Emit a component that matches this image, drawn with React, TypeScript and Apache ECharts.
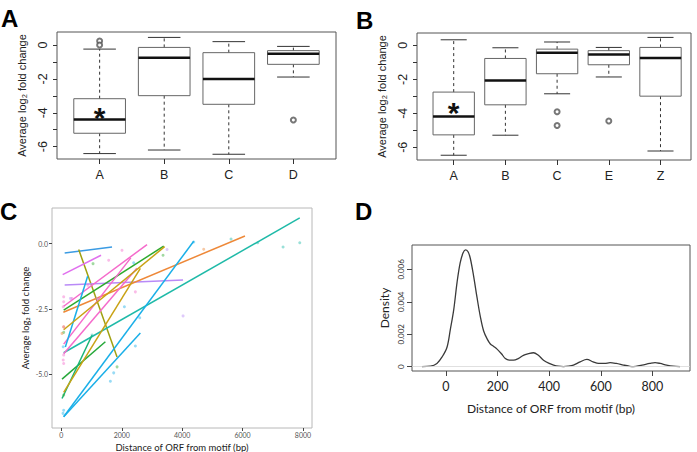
import React, { useEffect, useRef } from "react";
import * as echarts from "echarts";

// ---------- Panel A ----------
const catsA = ["A", "B", "C", "D"];
// [low whisker, Q1, median, Q3, high whisker]
const statsA = [
  [-6.41, -5.21, -4.39, -3.17, -0.24],
  [-6.2, -2.99, -0.75, -0.14, 0.45],
  [-6.45, -3.5, -2.0, -0.45, 0.2],
  [-1.89, -1.14, -0.51, -0.33, -0.08],
];
const outliersA = [[1, 0.24], [1, 0.0], [4, -4.43]];
const starA = [[1, -3.84]];

// ---------- Panel B ----------
const catsB = ["A", "B", "C", "E", "Z"];
const statsB = [
  [-6.47, -5.27, -4.19, -2.75, 0.33],
  [-5.29, -3.5, -2.07, -0.77, -0.14],
  [-2.85, -1.67, -0.43, -0.22, 0.2],
  [-1.86, -1.14, -0.53, -0.31, -0.12],
  [-6.22, -2.99, -0.74, -0.12, 0.47],
];
const outliersB = [[3, -3.91], [3, -4.72], [4, -4.45]];
const starB = [[1, -3.52]];

const ticksAB = [-6, -5, -4, -3, -2, -1, 0];
const labelsAB = [-6, -4, -2, 0];

// ---------- Panel C ----------
// [x1, y1, x2, y2]
const cLines = [
  [110, -0.36, 1678, -0.13],
  [574, -0.23, 1844, -4.34],
  [44, -1.19, 1314, -0.45],
  [110, -1.59, 4030, -1.4],
  [66, -2.63, 6080, 0.29],
  [77, -2.55, 3389, -0.1],
  [77, -4.18, 7894, 0.98],
  [77, -2.4, 2837, -0.04],
  [77, -3.85, 2300, -0.55],
  [77, -4.22, 2500, -0.95],
  [77, -6.63, 4383, 0.09],
  [77, -6.63, 2616, -3.42],
  [132, -3.96, 871, -1.25],
  [22, -5.19, 1457, -3.76],
  [22, -5.93, 1016, -3.51],
  [77, -5.7, 2616, -0.95],
  [77, -3.3, 3420, -0.12],
];
const cLineGroups = [0, 1, 2, 3, 4, 5, 6, 7, 7, 7, 8, 8, 8, 9, 10, 11, 11];
const cPalette = [
  "#3B9BE3", "#A0A010", "#E070EE", "#B98AF7", "#EE8838", "#2EAA2E",
  "#1FBAA8", "#F56BCB", "#1AAFE8", "#26A83A", "#19B477", "#C9A214",
];
const cPointsPink = [[77, -2.04], [77, -2.23], [60, -2.42], [77, -3.19], [77, -4.27], [60, -4.46], [77, -4.59], [2009, -0.26], [1568, -0.64], [2451, -1.85], [880, -1.6], [350, -2.1]];
const cPointsLavender = [[1181, -2.1], [4030, -2.77], [3500, -0.23], [300, -2.1]];
const cPointsGreen = [[1049, -0.77], [3367, -0.45], [1844, -4.72], [77, -3.4], [77, -5.8]];
const cPointsBlue = [[2396, -0.74], [2451, -3.92], [2594, -2.84], [2087, -2.42], [1733, -4.95], [1623, -5.27], [77, -6.38], [55, -6.5], [4383, 0.06], [60, -3.95]];
const cPointsTeal = [[6503, 0.03], [7342, -0.13], [7894, 0.03], [5619, 0.17], [1016, -3.5]];
const cPointsOrange = [[4714, -0.22], [77, -3.19], [22, -3.44]];
const cTicksX = [0, 2000, 4000, 6000, 8000];
const cTicksY = [-5, -2.5, 0];

// ---------- Panel D ----------
const densX = [-93, -60, -35, -15, 4, 17, 30, 43, 55, 66, 75, 85, 94, 107, 120, 133, 146, 160, 172, 185, 197, 215, 230, 245, 262, 280, 300, 320, 339, 358, 378, 400, 417, 435, 455, 475, 494, 520, 546, 570, 591, 615, 636, 660, 688, 710, 726, 760, 790, 810, 830, 855, 880, 907];
const densY = [0, 0.00003, 0.0002, 0.0006, 0.0012, 0.0023, 0.0035, 0.0052, 0.0064, 0.007, 0.0072, 0.0071, 0.0067, 0.0056, 0.0043, 0.0031, 0.0022, 0.0017, 0.0014, 0.00125, 0.0011, 0.0008, 0.0005, 0.0004, 0.0004, 0.0005, 0.0007, 0.0008, 0.00086, 0.0007, 0.0004, 0.0002, 0.0001, 0.00003, 0, 0.00003, 0.0001, 0.0003, 0.00045, 0.0003, 0.0002, 0.0002, 0.00025, 0.0002, 0.0001, 0.00003, 0, 0.0001, 0.0002, 0.00025, 0.0002, 0.0001, 0.00003, 0];
const dTicksX = [0, 200, 400, 600, 800];
const dTicksY = [0, 0.002, 0.004, 0.006];

const ARIAL = "Liberation Sans, Arial, sans-serif";
const CAL = "Lato, 'Open Sans', sans-serif";

function renderBox(params: any, api: any) {
  const x = api.value(0);
  const lo = api.coord([x, api.value(1)]);
  const q1 = api.coord([x, api.value(2)]);
  const md = api.coord([x, api.value(3)]);
  const q3 = api.coord([x, api.value(4)]);
  const hi = api.coord([x, api.value(5)]);
  const half = api.size([0.8, 0])[0] / 2;
  const cap = half * 0.63;
  const cx = md[0];
  const dash = { stroke: "#333", lineWidth: 1, lineDash: [3, 3] };
  const solid = { stroke: "#333", lineWidth: 1 };
  return {
    type: "group",
    children: [
      { type: "line", shape: { x1: cx, y1: q3[1], x2: cx, y2: hi[1] }, style: dash },
      { type: "line", shape: { x1: cx, y1: q1[1], x2: cx, y2: lo[1] }, style: dash },
      { type: "line", shape: { x1: cx - cap, y1: hi[1], x2: cx + cap, y2: hi[1] }, style: solid },
      { type: "line", shape: { x1: cx - cap, y1: lo[1], x2: cx + cap, y2: lo[1] }, style: solid },
      {
        type: "rect",
        shape: { x: cx - half, y: q3[1], width: 2 * half, height: q1[1] - q3[1] },
        style: { fill: "rgba(0,0,0,0)", stroke: "#666", lineWidth: 1 },
      },
      { type: "line", shape: { x1: cx - half, y1: md[1], x2: cx + half, y2: md[1] }, style: { stroke: "#111", lineWidth: 2.5 } },
    ],
  };
}

function renderStar(params: any, api: any) {
  const p = api.coord([api.value(0), api.value(1)]);
  return {
    type: "text",
    x: p[0],
    y: p[1] + 7,
    style: { text: "*", fontSize: 30, fontWeight: "bold", fontFamily: ARIAL, fill: "#111", align: "center", verticalAlign: "middle" },
  };
}

const noLine = { show: false, onZero: false };

function boxAxes(gi: number, cats: string[], xmin: number, xmax: number, ymin: number, ymax: number) {
  const idx = cats.map((_, i) => i + 1);
  const x = {
    gridIndex: gi, type: "value", min: xmin, max: xmax, position: "bottom",
    axisLine: noLine, splitLine: { show: false },
    axisTick: { show: true, customValues: idx, length: 5, lineStyle: { color: "#333" } },
    axisLabel: { customValues: idx, formatter: (v: number) => cats[Math.round(v) - 1] || "", fontSize: 12.5, color: "#222", margin: 9, fontFamily: ARIAL },
  };
  const y = {
    gridIndex: gi, type: "value", min: ymin, max: ymax, position: "left",
    axisLine: noLine, splitLine: { show: false },
    axisTick: { show: true, customValues: ticksAB, length: 4, lineStyle: { color: "#333" } },
    axisLabel: { customValues: labelsAB, rotate: 90, fontSize: 12.5, color: "#222", margin: 8, fontFamily: ARIAL, formatter: (v: number) => String(v) },
    name: "Average log₂ fold change", nameLocation: "middle", nameGap: 30,
    nameTextStyle: { fontSize: 11, color: "#222", fontFamily: ARIAL },
  };
  return { x, y };
}

export default function App() {
  const ref = useRef<HTMLDivElement>(null);
  useEffect(() => {
    if (!ref.current) return;
    const chart = echarts.init(ref.current, null, { renderer: "svg" });
    const a = boxAxes(0, catsA, 0.34, 4.66, -6.73, 0.77);
    const b = boxAxes(1, catsB, 0.29, 5.59, -6.75, 0.73);
    const gridBase = { show: true, backgroundColor: "transparent", containLabel: false, outerBoundsMode: "none" };
    const cScatter = (data: number[][], color: string) => ({
      type: "scatter", xAxisIndex: 2, yAxisIndex: 2, data, symbolSize: 3,
      itemStyle: { color, opacity: 0.45 }, silent: true,
    });
    const option: any = {
      animation: false,
      backgroundColor: "#fff",
      grid: [
        { ...gridBase, left: 57, top: 32, width: 279, height: 127, borderColor: "#555", borderWidth: 1 },
        { ...gridBase, left: 417, top: 33, width: 274, height: 127, borderColor: "#555", borderWidth: 1 },
        { ...gridBase, left: 52, top: 208, width: 260, height: 220, borderColor: "#b8b8b8", borderWidth: 1 },
        { ...gridBase, left: 412, top: 245, width: 278, height: 126, borderColor: "#555", borderWidth: 1 },
      ],
      xAxis: [
        a.x,
        b.x,
        {
          gridIndex: 2, type: "value", min: -310, max: 8300, position: "bottom",
          axisLine: noLine, splitLine: { show: false },
          axisTick: { customValues: cTicksX, length: 3, lineStyle: { color: "#444" } },
          axisLabel: { customValues: cTicksX, fontSize: 7, color: "#555", margin: 3, fontFamily: CAL, formatter: (v: number) => String(v) },
          name: "Distance of ORF from motif (bp)", nameLocation: "middle", nameGap: 14,
          nameTextStyle: { fontSize: 9.5, color: "#222", fontFamily: CAL },
        },
        {
          gridIndex: 3, type: "value", min: -131.6, max: 945.6, position: "bottom",
          axisLine: noLine, splitLine: { show: false },
          axisTick: { customValues: dTicksX, length: 5, lineStyle: { color: "#444" } },
          axisLabel: { customValues: dTicksX, fontSize: 12.5, color: "#222", margin: 9, fontFamily: CAL, formatter: (v: number) => String(v) },
          name: "Distance of ORF from motif (bp)", nameLocation: "middle", nameGap: 31,
          nameTextStyle: { fontSize: 12, color: "#222", fontFamily: CAL },
        },
      ],
      yAxis: [
        a.y,
        b.y,
        {
          gridIndex: 2, type: "value", min: -7.06, max: 1.36, position: "left",
          axisLine: noLine, splitLine: { show: false },
          axisTick: { customValues: cTicksY, length: 3, lineStyle: { color: "#444" } },
          axisLabel: { customValues: cTicksY, fontSize: 7, color: "#555", margin: 4, fontFamily: CAL, formatter: (v: number) => v.toFixed(1) },
          name: "Average log₂ fold change", nameLocation: "middle", nameGap: 22,
          nameTextStyle: { fontSize: 9.5, color: "#222", fontFamily: CAL },
        },
        {
          gridIndex: 3, type: "value", min: -0.000265, max: 0.0075, position: "left",
          axisLine: noLine, splitLine: { show: false },
          axisTick: { customValues: dTicksY, length: 5, lineStyle: { color: "#444" } },
          axisLabel: { customValues: dTicksY, rotate: 90, fontSize: 8, color: "#333", margin: 7, fontFamily: CAL, formatter: (v: number) => (v === 0 ? "0" : v.toFixed(3)) },
          name: "Density", nameLocation: "middle", nameGap: 22,
          nameTextStyle: { fontSize: 12, color: "#222", fontFamily: CAL },
        },
      ],
      series: [
        { type: "custom", xAxisIndex: 0, yAxisIndex: 0, renderItem: renderBox, data: statsA.map((s, i) => [i + 1, ...s]), encode: { x: 0, y: [1, 2, 3, 4, 5] }, silent: true },
        { type: "scatter", xAxisIndex: 0, yAxisIndex: 0, data: outliersA, symbol: "emptyCircle", symbolSize: 5, itemStyle: { color: "#555", borderColor: "#555", borderWidth: 0.8 }, silent: true },
        { type: "custom", xAxisIndex: 0, yAxisIndex: 0, renderItem: renderStar, data: starA, silent: true },
        { type: "custom", xAxisIndex: 1, yAxisIndex: 1, renderItem: renderBox, data: statsB.map((s, i) => [i + 1, ...s]), encode: { x: 0, y: [1, 2, 3, 4, 5] }, silent: true },
        { type: "scatter", xAxisIndex: 1, yAxisIndex: 1, data: outliersB, symbol: "emptyCircle", symbolSize: 5, itemStyle: { color: "#555", borderColor: "#555", borderWidth: 0.8 }, silent: true },
        { type: "custom", xAxisIndex: 1, yAxisIndex: 1, renderItem: renderStar, data: starB, silent: true },
        cScatter(cPointsPink, cPalette[7]),
        cScatter(cPointsLavender, cPalette[3]),
        cScatter(cPointsGreen, cPalette[5]),
        cScatter(cPointsBlue, cPalette[8]),
        cScatter(cPointsTeal, cPalette[6]),
        cScatter(cPointsOrange, cPalette[4]),
        {
          type: "lines", coordinateSystem: "cartesian2d", xAxisIndex: 2, yAxisIndex: 2, silent: true,
          lineStyle: { width: 1.5, opacity: 1 },
          data: cLines.map((l, i) => ({
            coords: [[l[0], l[1]], [l[2], l[3]]],
            lineStyle: { color: cPalette[cLineGroups[i]], width: 1.5, opacity: 1 },
          })),
        },
        {
          type: "line", xAxisIndex: 3, yAxisIndex: 3, data: densX.map((x, i) => [x, densY[i]]),
          smooth: 0.35, symbol: "none", lineStyle: { color: "#3a3a3a", width: 1.3 }, silent: true,
          markLine: { silent: true, symbol: ["none", "none"], label: { show: false }, lineStyle: { color: "#d8d8d8", width: 0.8, type: "solid" }, data: [{ yAxis: 0 }] },
        },
      ],
      graphic: [
        { type: "text", left: 1, top: 6, style: { text: "A", fontSize: 24, fontWeight: "bold", fontFamily: ARIAL, fill: "#000" } },
        { type: "text", left: 356, top: 8, style: { text: "B", fontSize: 24, fontWeight: "bold", fontFamily: ARIAL, fill: "#000" } },
        { type: "text", left: 0, top: 199, style: { text: "C", fontSize: 24, fontWeight: "bold", fontFamily: ARIAL, fill: "#000" } },
        { type: "text", left: 355, top: 199, style: { text: "D", fontSize: 24, fontWeight: "bold", fontFamily: ARIAL, fill: "#000" } },
      ],
    };
    chart.setOption(option);
    return () => chart.dispose();
  }, []);
  return (
    <div
      ref={ref}
      style={{ position: "absolute", left: 0, top: 0, width: 697, height: 452, background: "#fff" }}
    />
  );
}
